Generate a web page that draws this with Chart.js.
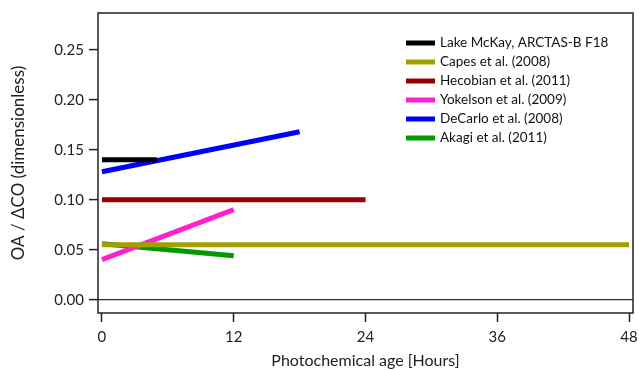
<!DOCTYPE html>
<html lang="en">
<head>
    <meta charset="UTF-8">
    <title>OA / ΔCO vs photochemical age</title>
    <script src="https://cdn.jsdelivr.net/npm/chart.js@4.4.1/dist/chart.umd.min.js"></script>
    <style>
        html, body { margin: 0; padding: 0; background: #fff; }
        .chart-box { width: 639px; height: 370px; position: relative; }
    </style>
</head>
<body>
    <div class="chart-box">
        <canvas id="ageChart" width="639" height="370"></canvas>
    </div>

    <script>
        // Series (x = hours, y = OA / dCO)
        const seriesLabels = [
            'Lake McKay, ARCTAS-B F18',
            'Capes et al. (2008)',
            'Hecobian et al. (2011)',
            'Yokelson et al. (2009)',
            'DeCarlo et al. (2008)',
            'Akagi et al. (2011)'
        ];
        const lakeHours = [0, 5];
        const lakeRatio = [0.14, 0.14];
        const capesHours = [0, 48];
        const capesRatio = [0.055, 0.055];
        const hecobianHours = [0, 24];
        const hecobianRatio = [0.10, 0.10];
        const yokelsonHours = [0, 12];
        const yokelsonRatio = [0.040, 0.090];
        const decarloHours = [0, 18];
        const decarloRatio = [0.128, 0.168];
        const akagiHours = [0, 12];
        const akagiRatio = [0.056, 0.044];

        const xTicks = [0, 12, 24, 36, 48];
        const yTicks = [0, 0.05, 0.10, 0.15, 0.20, 0.25];

        const seriesColors = ['#000000', '#a0a000', '#990000', '#ff22cc', '#0000ff', '#009900'];

        const allHours = [lakeHours, capesHours, hecobianHours, yokelsonHours, decarloHours, akagiHours];
        const allRatios = [lakeRatio, capesRatio, hecobianRatio, yokelsonRatio, decarloRatio, akagiRatio];

        const datasets = seriesLabels.map((label, i) => ({
            label: label,
            data: allHours[i].map((h, j) => ({ x: h, y: allRatios[i][j] })),
            borderColor: seriesColors[i],
            backgroundColor: seriesColors[i],
            borderWidth: 5,
            pointRadius: 0,
            fill: false
        }));

        // frame around the plot area and the legend box in the top right
        const framePlugin = {
            id: 'frameAndLegend',
            afterDraw(chart) {
                const ctx = chart.ctx;
                const a = chart.chartArea;
                ctx.save();
                ctx.strokeStyle = '#222';
                ctx.lineWidth = 1.5;
                ctx.strokeRect(a.left, a.top, a.right - a.left, a.bottom - a.top);

                ctx.font = '13.5px Lato';
                ctx.textBaseline = 'middle';
                ctx.textAlign = 'left';
                chart.data.datasets.forEach((ds, i) => {
                    const y = 43 + i * 19;
                    ctx.strokeStyle = ds.borderColor;
                    ctx.lineWidth = 5;
                    ctx.beginPath();
                    ctx.moveTo(406, y);
                    ctx.lineTo(435, y);
                    ctx.stroke();
                    ctx.fillStyle = '#111';
                    ctx.fillText(ds.label, 440, y);
                });
                ctx.restore();
            }
        };

        const ctx = document.getElementById('ageChart').getContext('2d');
        new Chart(ctx, {
            type: 'line',
            data: { datasets: datasets },
            plugins: [framePlugin],
            options: {
                responsive: false,
                animation: false,
                layout: { padding: { left: 0, top: 13, right: 6, bottom: 0 } },
                plugins: {
                    legend: { display: false },
                    tooltip: { enabled: false }
                },
                scales: {
                    x: {
                        type: 'linear',
                        min: -0.36,
                        max: 48.36,
                        afterBuildTicks: axis => { axis.ticks = xTicks.map(v => ({ value: v })); },
                        afterFit: axis => {
                            axis.height = 57;
                            axis.paddingLeft = 0;
                            axis.paddingRight = 0;
                        },
                        border: { display: false },
                        grid: {
                            drawOnChartArea: false,
                            drawTicks: true,
                            tickLength: 9,
                            tickColor: '#222',
                            tickWidth: 1.5
                        },
                        ticks: {
                            padding: 6,
                            maxRotation: 0,
                            color: '#222',
                            font: { family: 'Lato', size: 15 },
                            callback: v => String(v)
                        },
                        title: {
                            display: true,
                            text: 'Photochemical age [Hours]',
                            color: '#222',
                            font: { family: 'Lato', size: 16 },
                            padding: { top: 0, bottom: 0 }
                        }
                    },
                    y: {
                        min: -0.0133,
                        max: 0.2867,
                        afterBuildTicks: axis => { axis.ticks = yTicks.map(v => ({ value: v })); },
                        afterFit: axis => {
                            axis.width = 98;
                            axis.paddingTop = 0;
                            axis.paddingBottom = 0;
                        },
                        border: { display: false },
                        grid: {
                            drawOnChartArea: true,
                            drawTicks: true,
                            tickLength: 9,
                            tickColor: '#222',
                            tickWidth: 1.5,
                            color: c => (c.tick && c.tick.value === 0) ? '#333' : 'rgba(0,0,0,0)',
                            lineWidth: 1.2
                        },
                        ticks: {
                            padding: 5,
                            color: '#222',
                            font: { family: 'Lato', size: 15 },
                            callback: v => Number(v).toFixed(2)
                        },
                        title: {
                            display: true,
                            text: 'OA / ΔCO (dimensionless)',
                            color: '#222',
                            font: { family: 'Lato', size: 17 },
                            padding: { top: 8, bottom: 0 }
                        }
                    }
                }
            }
        });
    </script>
</body>
</html>
